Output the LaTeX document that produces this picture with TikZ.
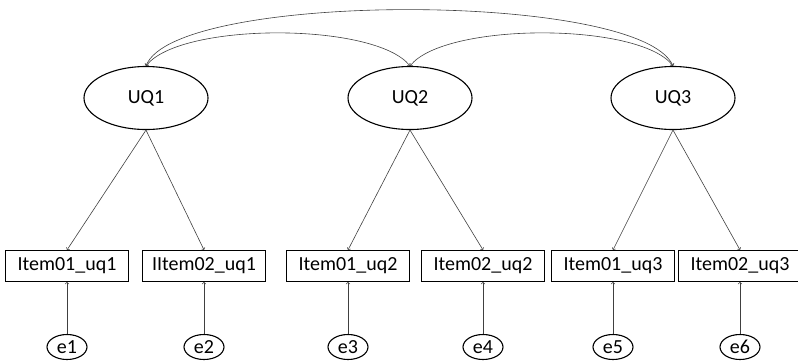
\documentclass[tikz,border=0pt]{standalone}
\usepackage{fontspec}
\setmainfont{Carlito}
\usetikzlibrary{shapes.geometric}
\begin{document}
\begin{tikzpicture}[x=1pt, y=-1pt, font=\fontsize{20}{24}\selectfont, >=to,
  latent/.style={ellipse,draw,line width=1.1pt,minimum width=124pt,minimum height=63pt,inner sep=0pt},
  item node/.style={rectangle,draw,line width=1.1pt,minimum width=123pt,minimum height=31pt,inner sep=0pt},
  err node/.style={ellipse,draw,line width=1.1pt,minimum width=40pt,minimum height=25pt,inner sep=0pt},
  path/.style={->,line width=0.6pt,draw=black!75},
  cov/.style={<->,line width=0.6pt,draw=black!75}]
\useasboundingbox (0,0) rectangle (798,360);
% factors
\node[latent] (uq1) at (146,98) {UQ1};
\node[latent] (uq2) at (410,98) {UQ2};
\node[latent] (uq3) at (673,98) {UQ3};
% items
\node[item node] (i1) at (67,266) {Item01\_uq1};
\node[item node] (i2) at (204,266) {IItem02\_uq1};
\node[item node] (i3) at (348,266) {Item01\_uq2};
\node[item node] (i4) at (483,266) {Item02\_uq2};
\node[item node] (i5) at (613,266) {Item01\_uq3};
\node[item node] (i6) at (740,266) {Item02\_uq3};
% errors
\node[err node] (e1) at (67,347) {e1};
\node[err node] (e2) at (204,347) {e2};
\node[err node] (e3) at (348,347) {e3};
\node[err node] (e4) at (483,347) {e4};
\node[err node] (e5) at (613,347) {e5};
\node[err node] (e6) at (740,347) {e6};
% loadings
\draw[path] (uq1.south) -- (i1.north);
\draw[path] (uq1.south) -- (i2.north);
\draw[path] (uq2.south) -- (i3.north);
\draw[path] (uq2.south) -- (i4.north);
\draw[path] (uq3.south) -- (i5.north);
\draw[path] (uq3.south) -- (i6.north);
\foreach \k in {1,...,6}
  \draw[path] (e\k.north) -- (i\k.south);
% covariances
\draw[cov] (uq1.north) .. controls (175,-9) and (640,-9) .. (uq3.north);
\draw[cov] (uq1.north) .. controls (180,22) and (375,22) .. (uq2.north);
\draw[cov] (uq2.north) .. controls (445,22) and (640,22) .. (uq3.north);
\end{tikzpicture}
\end{document}
